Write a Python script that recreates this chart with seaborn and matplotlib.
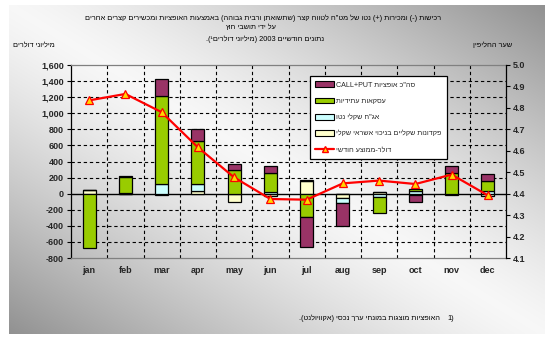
import re
import numpy as np
import pandas as pd
import matplotlib
matplotlib.use("Agg")
import matplotlib.pyplot as plt
from matplotlib.patches import Patch
from matplotlib.lines import Line2D
import seaborn as sns

# ---------------- data ----------------
months = ['jan', 'feb', 'mar', 'apr', 'may', 'jun', 'jul', 'aug', 'sep', 'oct', 'nov', 'dec']
deposits = [45, 0, -15, 37, -100, -25, 160, -58, 15, -20, -15, -25]      # yellow
bonds = [0, 8, 120, 83, 0, 25, 10, -62, -45, 30, 0, 37]                   # cyan
futures = [-680, 195, 1093, 534, 294, 232, -294, 0, -195, 25, 253, 120]  # green
options = [0, 15, 211, 145, 75, 87, -373, -278, 0, -87, 91, 87]          # purple
rate = [4.835, 4.865, 4.78, 4.616, 4.476, 4.375, 4.372, 4.448, 4.461, 4.445, 4.489, 4.392]

left_ticks = list(range(-800, 1601, 200))
right_ticks = [4.1, 4.2, 4.3, 4.4, 4.5, 4.6, 4.7, 4.8, 4.9, 5.0]

lab_options = 'סה"כ אופציות CALL+PUT'
lab_futures = 'עסקאות עתידיות'
lab_bonds = 'אג"ח שקלי נטו'
lab_deposits = 'פקדונות שקליים בניכוי אשראי שקלי'
lab_rate = 'דולר-ממוצע חודשי'
title1 = 'רכישות (-) ומכירות (+) נטו של מט"ח לטווח קצר (שתשואתן ורבית גבוהה) באמצעות האופציות ומכשירים קצרים אחרים'
title2 = 'על ידי תושבי חוץ'
title3 = 'נתונים חודשיים 2003 (מיליוני דולרים¹).'
ylab_left = 'מיליוני דולרים'
ylab_right = 'שער החליפין'
foot = 'האופציות מוצגות במונחי ערך נכסי (אקוויולנט).'

# ------------- helpers ---------------
MIRROR = str.maketrans('()[]', ')(][')


def bidi(s):
    r = s[::-1].translate(MIRROR)
    r = re.sub(r'[A-Za-z0-9][A-Za-z0-9+.,]*[A-Za-z0-9]|[A-Za-z0-9]',
               lambda m: m.group(0)[::-1], r)
    return r


sns.set_style('white')
plt.rcParams['font.family'] = ['Liberation Sans', 'DejaVu Sans']

W, H = 557, 351
fig = plt.figure(figsize=(W / 100, H / 100), dpi=100)
fig.patch.set_facecolor('white')

# background gradient panel
bg = fig.add_axes([0, 0, 1, 1], zorder=-10)
bg.set_xlim(0, W)
bg.set_ylim(H, 0)
bg.axis('off')
x0, x1, y0, y1 = 9, 545, 5, 334
gx, gy = np.meshgrid(np.linspace(0, 1, 300), np.linspace(0, 1, 200))
d = gx - gy
b = 0.97 - 0.40 * np.abs(d) ** 1.3
img = np.dstack([b, b, b])
bg.imshow(img, extent=[x0, x1, y1, y0], aspect='auto', interpolation='bilinear')

# main axes
ax = fig.add_axes([71 / W, (H - 258) / H, 435 / W, 193 / H])
ax.set_facecolor('none')
x = np.arange(len(months))
bw = 0.36
colors = {'deposits': '#FFFFCC', 'bonds': '#CCFFFF', 'futures': '#99CC00', 'options': '#993366'}
series = [('deposits', deposits), ('bonds', bonds), ('futures', futures), ('options', options)]
pos_b = np.zeros(12)
neg_b = np.zeros(12)
for name, vals in series:
    v = np.array(vals, dtype=float)
    bottom = np.where(v >= 0, pos_b, neg_b)
    ax.bar(x, v, bottom=bottom, width=bw, color=colors[name], edgecolor='black',
           linewidth=0.9, zorder=3)
    pos_b = pos_b + np.where(v >= 0, v, 0)
    neg_b = neg_b + np.where(v < 0, v, 0)

ax.set_xlim(-0.5, 11.5)
ax.set_ylim(-800, 1600)
for yv in left_ticks[1:-1]:
    if yv != 0:
        ax.axhline(yv, color='black', lw=0.8, ls=(0, (3, 2.5)), zorder=1)
for xv in np.arange(0.5, 11.5, 1):
    ax.axvline(xv, color='black', lw=0.8, ls=(0, (3, 2.5)), zorder=1)
ax.axhline(0, color='black', lw=1.0, zorder=2.5)

ax.set_yticks(left_ticks)
ax.set_yticklabels([f'{v:,}' for v in left_ticks])
ax.set_xticks(x)
ax.set_xticklabels(months)
ax.set_xticks(np.arange(0.5, 11.5, 1), minor=True)
ax.tick_params(axis='x', which='major', length=0, pad=6, labelsize=6.5)
ax.tick_params(axis='x', which='minor', length=2, width=0.6, color='#808080', direction='out')
ax.tick_params(axis='y', length=3, width=0.8, color='black', direction='out', labelsize=6.5, pad=2)
for lab in ax.get_yticklabels() + ax.get_xticklabels():
    lab.set_fontweight('bold')
for s in ['left']:
    ax.spines[s].set_color('black')
    ax.spines[s].set_linewidth(0.9)
for s in ['top', 'bottom']:
    ax.spines[s].set_color('#808080')
    ax.spines[s].set_linewidth(0.9)
ax.spines['right'].set_visible(False)

# secondary axis with line
ax2 = ax.twinx()
ax2.set_facecolor('none')
sns.lineplot(x=x, y=rate, ax=ax2, color='red', lw=1.6, marker='^', markersize=6,
             markerfacecolor='#FFD700', markeredgecolor='red', markeredgewidth=0.9,
             zorder=5)
ax2.set_ylim(4.1, 5.0)
ax2.set_yticks(right_ticks)
ax2.set_yticklabels([f'{v:.1f}' for v in right_ticks])
ax2.tick_params(axis='y', length=3, width=0.8, color='black', direction='out', labelsize=6.5, pad=2)
for lab in ax2.get_yticklabels():
    lab.set_fontweight('bold')
ax2.set_ylabel('')
for s in ['top', 'bottom', 'left']:
    ax2.spines[s].set_visible(False)
ax2.spines['right'].set_color('black')
ax2.spines['right'].set_linewidth(0.9)

handles = [
    Patch(facecolor=colors['options'], edgecolor='black', lw=0.8),
    Patch(facecolor=colors['futures'], edgecolor='black', lw=0.8),
    Patch(facecolor=colors['bonds'], edgecolor='black', lw=0.8),
    Patch(facecolor=colors['deposits'], edgecolor='black', lw=0.8),
    Line2D([0], [0], color='red', lw=1.6, marker='^', markersize=5,
           markerfacecolor='#FFD700', markeredgecolor='red'),
]
labels = [bidi(t) for t in [lab_options, lab_futures, lab_bonds, lab_deposits, lab_rate]]
leg = ax2.legend(handles, labels, loc='upper left', bbox_to_anchor=(0.549, 0.945),
                 frameon=True, fancybox=False, framealpha=1, edgecolor='black',
                 facecolor='white', fontsize=5.1, labelspacing=1.25, handlelength=2.6,
                 handleheight=0.9, handletextpad=0.3, borderpad=0.8, borderaxespad=0)
leg.get_frame().set_linewidth(0.9)
leg.set_zorder(10)

# texts
def ftext(px, py, s, **kw):
    fig.text(px / W, 1 - py / H, s, **kw)

tk = dict(fontsize=5.3, color='black')
ftext(263, 18, bidi(title1), ha='center', va='center', **tk)
ftext(250, 28, bidi(title2), ha='center', va='center', **tk)
ftext(265, 39, bidi(title3), ha='center', va='center', **tk)
ftext(55, 45, bidi(ylab_left), ha='right', va='center', **tk)
ftext(473, 45, bidi(ylab_right), ha='left', va='center', **tk)
ftext(440, 318, bidi(foot), ha='right', va='center', **tk)
ftext(447, 318, '1)', ha='left', va='center', **tk)

fig.savefig('out.png', dpi=100)
